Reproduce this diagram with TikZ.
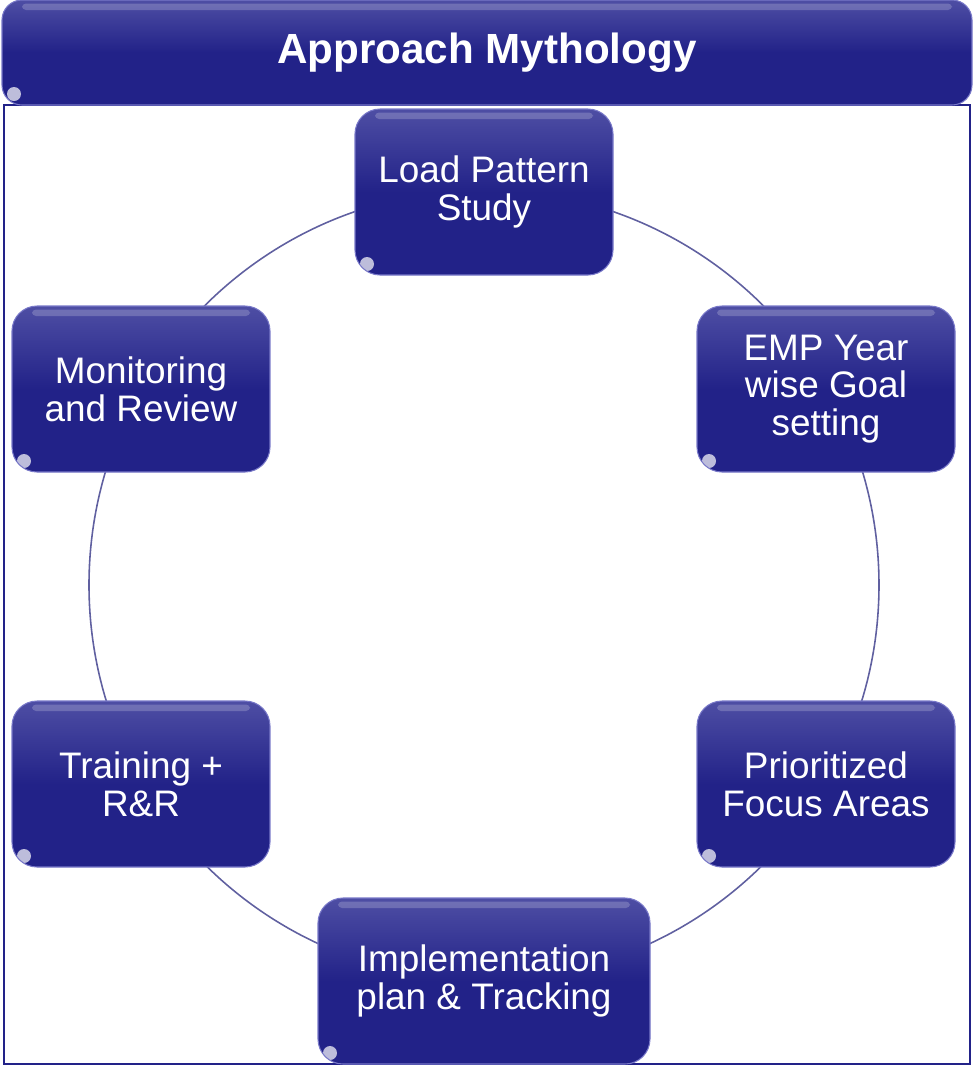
\documentclass[tikz,border=0pt]{standalone}
\usepackage{fontspec}
\setmainfont{Liberation Sans}
\usepackage{tikz}

\definecolor{navy}{RGB}{34,34,136}
\definecolor{navytop}{RGB}{78,78,164}
\definecolor{navyedge}{RGB}{120,120,200}
\definecolor{ringcol}{RGB}{96,96,160}

\tikzset{
    glossy/.style={rounded corners=0.5cm, top color=navytop, bottom color=navy,
        middle color=navy, draw=navyedge, line width=0.6pt,
        path picture={
            \fill[white,opacity=0.2,rounded corners=0.08cm] ([xshift=0.4cm,yshift=-0.07cm]path picture bounding box.north west)
                rectangle ([xshift=-0.4cm,yshift=-0.2cm]path picture bounding box.north east);
            \fill[white,opacity=0.7] ([xshift=0.24cm,yshift=0.22cm]path picture bounding box.south west) circle (0.14cm);
        }},
    stepbox/.style={glossy, minimum width=5.16cm, minimum height=3.32cm,
        text=white, align=center, font=\fontsize{21}{21.5}\selectfont},
    headbox/.style={glossy, rounded corners=0.4cm, minimum width=19.4cm, minimum height=2.1cm,
        text=white, font=\fontsize{24}{28}\selectfont\bfseries}
}

\begin{document}
\begin{tikzpicture}
    \useasboundingbox (0.0, 0.0) rectangle (19.48, -21.32);

    % frame and ring
    \draw[navy, line width=1.2pt] (0.08, -2.1) rectangle (19.40, -21.28);
    \coordinate (hub) at (9.68, -11.7);
    \draw[ringcol, line width=0.9pt] (hub) circle (7.9);

    \node[headbox] (title) at (9.74, -1.05) {Approach Mythology};

    \node[stepbox] (load) at (9.68, -3.84) {Load Pattern\\Study};
    \node[stepbox] (goal) at (16.52, -7.78) {EMP Year\\wise Goal\\setting};
    \node[stepbox] (focus) at (16.52, -15.68) {Prioritized\\Focus Areas};
    \node[stepbox, minimum width=6.64cm] (plan) at (9.68, -19.62) {Implementation\\plan \& Tracking};
    \node[stepbox] (train) at (2.82, -15.68) {Training +\\R\&R};
    \node[stepbox] (review) at (2.82, -7.78) {Monitoring\\and Review};
\end{tikzpicture}
\end{document}
